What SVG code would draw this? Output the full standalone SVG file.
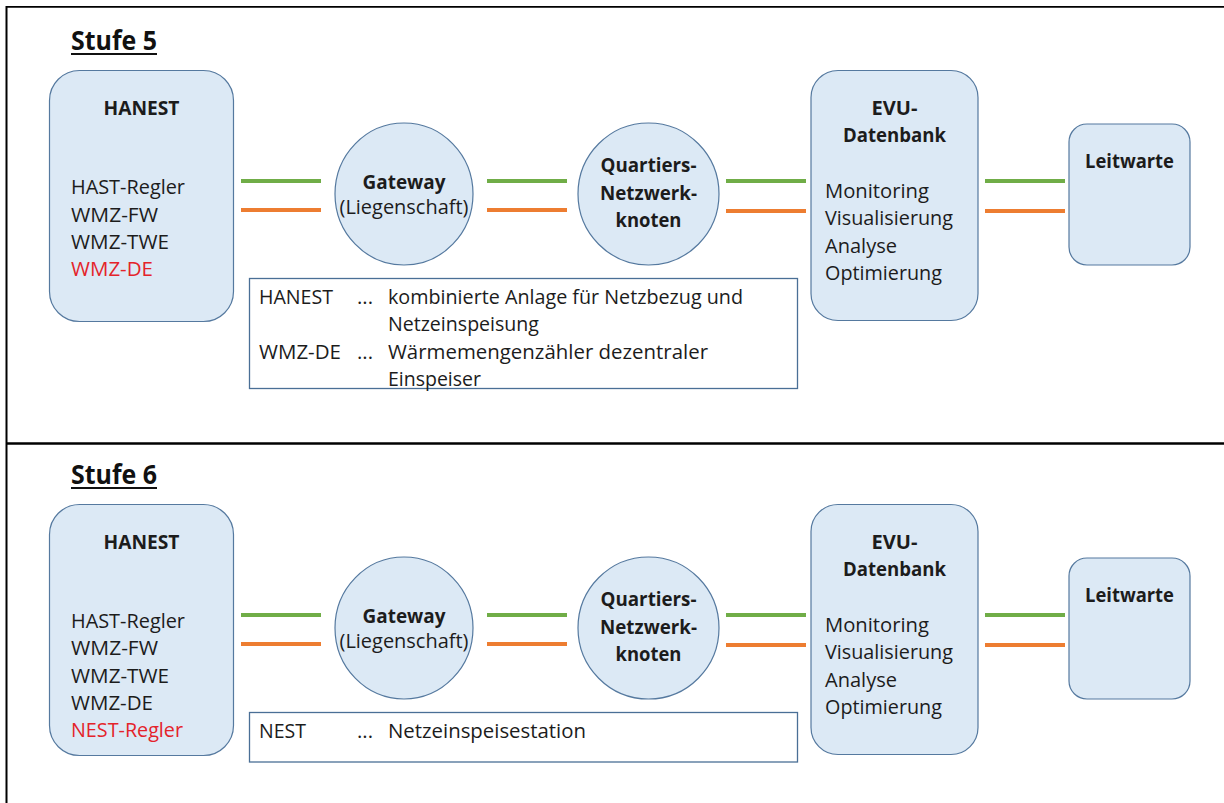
<svg xmlns="http://www.w3.org/2000/svg" width="1224" height="803" viewBox="0 0 1224 803">
  <style>
    .t { font-family: "Open Sans", "Liberation Sans", sans-serif; font-size: 20px; fill: #1c1c1c; }
    .b { font-weight: bold; }
    .mid { text-anchor: middle; }
    .red { fill: #e4232a; }
    .head { font-family: "Open Sans", "Liberation Sans", sans-serif; font-size: 26px; font-weight: bold; fill: #111; }
    .node { fill: #dce9f5; stroke: #55799f; stroke-width: 1.2; }
    .legend { fill: #ffffff; stroke: #4a6f96; stroke-width: 1.3; }
    .frame { stroke: #000; fill: none; }
    .g { stroke: #70ad47; stroke-width: 4; }
    .o { stroke: #ed7d31; stroke-width: 4; }
  </style>

  <!-- frame -->
  <g id="frame">
    <line class="frame" x1="6" y1="6.8" x2="1224" y2="6.8" stroke-width="1.8"/>
    <line class="frame" x1="6.5" y1="6" x2="6.5" y2="803" stroke-width="2"/>
    <line class="frame" x1="6" y1="443.5" x2="1224" y2="443.5" stroke-width="2.4"/>
  </g>

  <!-- ===== Stufe 5 ===== -->
  <g id="title5">
    <text class="head" x="71" y="50" textLength="86" lengthAdjust="spacingAndGlyphs">Stufe 5</text>
    <line x1="71" y1="54" x2="157" y2="54" stroke="#111" stroke-width="1.8"/>
  </g>

  <g id="connectors5">
    <line class="g" x1="241" y1="181" x2="321" y2="181"/>
    <line class="o" x1="241" y1="210" x2="321" y2="210"/>
    <line class="g" x1="487" y1="181" x2="567" y2="181"/>
    <line class="o" x1="487" y1="210" x2="567" y2="210"/>
    <line class="g" x1="726" y1="181" x2="806" y2="181"/>
    <line class="o" x1="726" y1="211" x2="806" y2="211"/>
    <line class="g" x1="985" y1="181" x2="1065" y2="181"/>
    <line class="o" x1="985" y1="211" x2="1065" y2="211"/>
  </g>

  <g id="hanest5">
    <rect class="node" x="49.5" y="70.5" width="184" height="251" rx="30"/>
    <text class="t b mid" x="141.5" y="115" textLength="76" lengthAdjust="spacingAndGlyphs">HANEST</text>
    <text class="t" x="71" y="194" textLength="114" lengthAdjust="spacingAndGlyphs">HAST-Regler</text>
    <text class="t" x="71" y="222" textLength="87" lengthAdjust="spacingAndGlyphs">WMZ-FW</text>
    <text class="t" x="71" y="249" textLength="98" lengthAdjust="spacingAndGlyphs">WMZ-TWE</text>
    <text class="t red" x="71" y="276" textLength="82" lengthAdjust="spacingAndGlyphs">WMZ-DE</text>
  </g>

  <g id="gateway5">
    <ellipse class="node" cx="404" cy="194" rx="69" ry="71"/>
    <text class="t b mid" x="404" y="189" textLength="83" lengthAdjust="spacingAndGlyphs">Gateway</text>
    <text class="t mid" x="404" y="214" textLength="129" lengthAdjust="spacingAndGlyphs">(Liegenschaft)</text>
  </g>

  <g id="quartier5">
    <ellipse class="node" cx="648.5" cy="194" rx="70.5" ry="71"/>
    <text class="t b mid" x="648.5" y="172" textLength="96" lengthAdjust="spacingAndGlyphs">Quartiers-</text>
    <text class="t b mid" x="648.5" y="200" textLength="97" lengthAdjust="spacingAndGlyphs">Netzwerk-</text>
    <text class="t b mid" x="648.5" y="227" textLength="66" lengthAdjust="spacingAndGlyphs">knoten</text>
  </g>

  <g id="evu5">
    <rect class="node" x="811" y="70.5" width="167" height="250" rx="27"/>
    <text class="t b mid" x="894.5" y="115" textLength="46" lengthAdjust="spacingAndGlyphs">EVU-</text>
    <text class="t b mid" x="894.5" y="142" textLength="103" lengthAdjust="spacingAndGlyphs">Datenbank</text>
    <text class="t" x="825" y="198" textLength="104" lengthAdjust="spacingAndGlyphs">Monitoring</text>
    <text class="t" x="825" y="225" textLength="128" lengthAdjust="spacingAndGlyphs">Visualisierung</text>
    <text class="t" x="825" y="253" textLength="72" lengthAdjust="spacingAndGlyphs">Analyse</text>
    <text class="t" x="825" y="280" textLength="117" lengthAdjust="spacingAndGlyphs">Optimierung</text>
  </g>

  <g id="leitwarte5">
    <rect class="node" x="1069" y="124" width="121" height="141" rx="18"/>
    <text class="t b mid" x="1129.5" y="168" textLength="89" lengthAdjust="spacingAndGlyphs">Leitwarte</text>
  </g>

  <g id="legend5">
    <rect class="legend" x="249.5" y="278.5" width="548" height="110"/>
    <text class="t" x="259" y="304" textLength="74" lengthAdjust="spacingAndGlyphs">HANEST</text>
    <text class="t" x="357" y="304" textLength="16" lengthAdjust="spacingAndGlyphs">...</text>
    <text class="t" x="388" y="304" textLength="355" lengthAdjust="spacingAndGlyphs">kombinierte Anlage für Netzbezug und</text>
    <text class="t" x="388" y="331" textLength="151" lengthAdjust="spacingAndGlyphs">Netzeinspeisung</text>
    <text class="t" x="259" y="359" textLength="82" lengthAdjust="spacingAndGlyphs">WMZ-DE</text>
    <text class="t" x="357" y="359" textLength="16" lengthAdjust="spacingAndGlyphs">...</text>
    <text class="t" x="388" y="359" textLength="320" lengthAdjust="spacingAndGlyphs">Wärmemengenzähler dezentraler</text>
    <text class="t" x="388" y="386" textLength="93" lengthAdjust="spacingAndGlyphs">Einspeiser</text>
  </g>

  <!-- ===== Stufe 6 ===== -->
  <g id="title6">
    <text class="head" x="71" y="484" textLength="86" lengthAdjust="spacingAndGlyphs">Stufe 6</text>
    <line x1="71" y1="488" x2="157" y2="488" stroke="#111" stroke-width="1.8"/>
  </g>

  <g id="connectors6">
    <line class="g" x1="241" y1="615" x2="321" y2="615"/>
    <line class="o" x1="241" y1="644" x2="321" y2="644"/>
    <line class="g" x1="487" y1="615" x2="567" y2="615"/>
    <line class="o" x1="487" y1="644" x2="567" y2="644"/>
    <line class="g" x1="726" y1="615" x2="806" y2="615"/>
    <line class="o" x1="726" y1="645" x2="806" y2="645"/>
    <line class="g" x1="985" y1="615" x2="1065" y2="615"/>
    <line class="o" x1="985" y1="645" x2="1065" y2="645"/>
  </g>

  <g id="hanest6">
    <rect class="node" x="49.5" y="504.5" width="184" height="251" rx="30"/>
    <text class="t b mid" x="141.5" y="549" textLength="76" lengthAdjust="spacingAndGlyphs">HANEST</text>
    <text class="t" x="71" y="628" textLength="114" lengthAdjust="spacingAndGlyphs">HAST-Regler</text>
    <text class="t" x="71" y="655" textLength="87" lengthAdjust="spacingAndGlyphs">WMZ-FW</text>
    <text class="t" x="71" y="683" textLength="98" lengthAdjust="spacingAndGlyphs">WMZ-TWE</text>
    <text class="t" x="71" y="710" textLength="82" lengthAdjust="spacingAndGlyphs">WMZ-DE</text>
    <text class="t red" x="71" y="737" textLength="112" lengthAdjust="spacingAndGlyphs">NEST-Regler</text>
  </g>

  <g id="gateway6">
    <ellipse class="node" cx="404" cy="628" rx="69" ry="71"/>
    <text class="t b mid" x="404" y="623" textLength="83" lengthAdjust="spacingAndGlyphs">Gateway</text>
    <text class="t mid" x="404" y="648" textLength="129" lengthAdjust="spacingAndGlyphs">(Liegenschaft)</text>
  </g>

  <g id="quartier6">
    <ellipse class="node" cx="648.5" cy="628" rx="70.5" ry="71"/>
    <text class="t b mid" x="648.5" y="606" textLength="96" lengthAdjust="spacingAndGlyphs">Quartiers-</text>
    <text class="t b mid" x="648.5" y="634" textLength="97" lengthAdjust="spacingAndGlyphs">Netzwerk-</text>
    <text class="t b mid" x="648.5" y="661" textLength="66" lengthAdjust="spacingAndGlyphs">knoten</text>
  </g>

  <g id="evu6">
    <rect class="node" x="811" y="504.5" width="167" height="250" rx="27"/>
    <text class="t b mid" x="894.5" y="549" textLength="46" lengthAdjust="spacingAndGlyphs">EVU-</text>
    <text class="t b mid" x="894.5" y="576" textLength="103" lengthAdjust="spacingAndGlyphs">Datenbank</text>
    <text class="t" x="825" y="632" textLength="104" lengthAdjust="spacingAndGlyphs">Monitoring</text>
    <text class="t" x="825" y="659" textLength="128" lengthAdjust="spacingAndGlyphs">Visualisierung</text>
    <text class="t" x="825" y="687" textLength="72" lengthAdjust="spacingAndGlyphs">Analyse</text>
    <text class="t" x="825" y="714" textLength="117" lengthAdjust="spacingAndGlyphs">Optimierung</text>
  </g>

  <g id="leitwarte6">
    <rect class="node" x="1069" y="558" width="121" height="141" rx="18"/>
    <text class="t b mid" x="1129.5" y="602" textLength="89" lengthAdjust="spacingAndGlyphs">Leitwarte</text>
  </g>

  <g id="legend6">
    <rect class="legend" x="249.5" y="712.5" width="548" height="49.5"/>
    <text class="t" x="259" y="738" textLength="47" lengthAdjust="spacingAndGlyphs">NEST</text>
    <text class="t" x="357" y="738" textLength="16" lengthAdjust="spacingAndGlyphs">...</text>
    <text class="t" x="388" y="738" textLength="198" lengthAdjust="spacingAndGlyphs">Netzeinspeisestation</text>
  </g>
</svg>
